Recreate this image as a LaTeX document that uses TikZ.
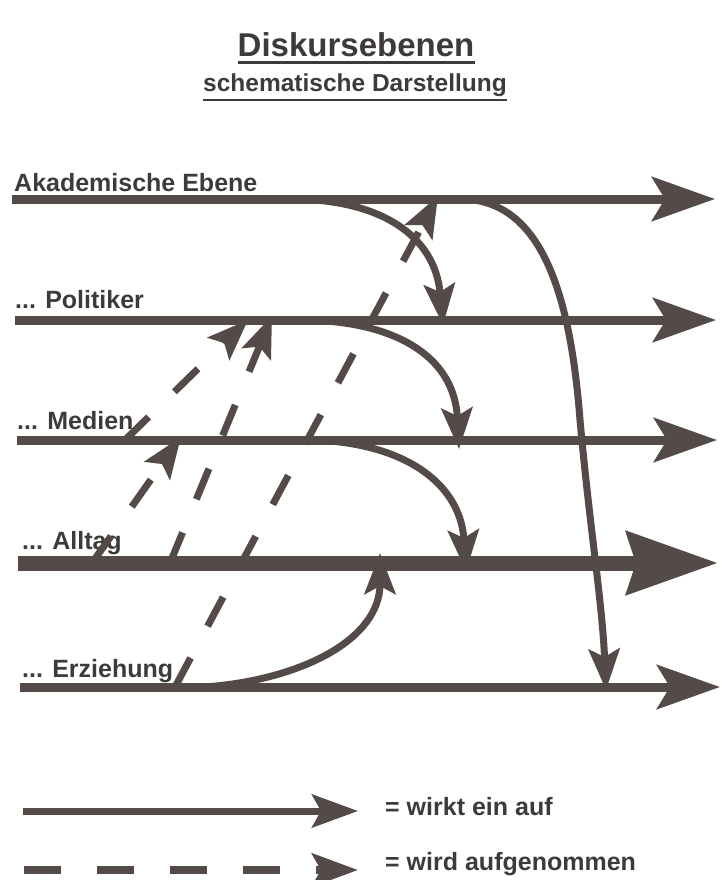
\documentclass[tikz,border=0pt]{standalone}
\usepackage{fontspec}
\setmainfont{Liberation Sans}
\usepackage{tikz}
\usetikzlibrary{arrows.meta}
\definecolor{inkgrey}{RGB}{84,74,72}
\definecolor{txtgrey}{RGB}{62,58,58}

\begin{document}
\begin{tikzpicture}[x=1pt, y=-1pt,
    lbl/.style={font=\fontsize{25}{30}\selectfont\bfseries, text=txtgrey, anchor=base west, inner sep=0pt},
    level/.style={color=inkgrey, line width=9pt, -{Stealth[length=63pt, width=44pt, inset=13pt]}},
    effect/.style={color=inkgrey, line width=7pt, -{Stealth[length=41pt, width=31pt, inset=8pt]}},
    taken/.style={effect, dash pattern=on 33pt off 36pt}]
    \fill[white] (0,0) rectangle (721,880);
    \useasboundingbox (0,0) rectangle (721,880);

    % Title
    \node[font=\fontsize{33}{40}\selectfont\bfseries, text=txtgrey, inner sep=0pt, anchor=base] (title) at (356,57) {Diskursebenen};
    \node[font=\fontsize{24.5}{30}\selectfont\bfseries, text=txtgrey, inner sep=0pt, anchor=base] (subtitle) at (355,92) {schematische Darstellung};
    \draw[txtgrey, line width=3pt] ([yshift=-6pt]title.base west) -- ([yshift=-6pt]title.base east);
    \draw[txtgrey, line width=2.5pt] ([yshift=-8pt]subtitle.base west) -- ([yshift=-8pt]subtitle.base east);

    % Levels
    \coordinate (akadL) at (12,199);  \coordinate (akadR) at (715,199);
    \coordinate (polL) at (15,320);   \coordinate (polR) at (716,320);
    \coordinate (medL) at (17,440);   \coordinate (medR) at (717,440);
    \coordinate (allL) at (18,563);   \coordinate (allR) at (718,563);
    \coordinate (erzL) at (20,687);   \coordinate (erzR) at (720,687);
    \draw[level] (akadL) -- (akadR);
    \draw[level] (polL) -- (polR);
    \draw[level] (medL) -- (medR);
    \draw[level, line width=15pt, -{Stealth[length=91pt, width=62pt, inset=9pt]}] (allL) -- (allR);
    \draw[level] (erzL) -- (erzR);

    % Level labels
    \node[lbl] (akadtxt) at (14,191) {Akademische Ebene};
    \node[lbl] (poltxt) at (15,308) {... Politiker};
    \node[lbl] (medtxt) at (17,429) {... Medien};
    \node[lbl] (alltxt) at (22,549) {... Alltag};
    \node[lbl] (erztxt) at (22,677) {... Erziehung};

    % wirkt ein auf
    \coordinate (akadOut1) at (290,199);  \coordinate (polIn1) at (443,325);
    \coordinate (polOut1) at (300,320);   \coordinate (medIn1) at (459,449);
    \coordinate (medOut1) at (305,440);   \coordinate (allIn1) at (466,571);
    \coordinate (erzOut1) at (205,687);   \coordinate (allIn2) at (380,553);
    \coordinate (akadOut2) at (460,199);  \coordinate (erzIn1) at (606,690);
    \draw[effect] (akadOut1) .. controls (380,199) and (435,235) .. (polIn1);
    \draw[effect] (polOut1) .. controls (388,320) and (454,352) .. (medIn1);
    \draw[effect] (medOut1) .. controls (395,440) and (460,478) .. (allIn1);
    \draw[effect] (erzOut1) .. controls (300,680) and (380,640) .. (allIn2);
    \draw[effect] (akadOut2) .. controls (540,199) and (570,290) .. (580,420)
        .. controls (590,530) and (602,600) .. (erzIn1);

    % wird aufgenommen
    \coordinate (erzOut2) at (175,687);  \coordinate (akadIn1) at (438,196);
    \coordinate (allOut1) at (170,563);  \coordinate (polIn2) at (272,316);
    \coordinate (medOut2) at (125,440);  \coordinate (polIn3) at (248,320);
    \coordinate (allOut2) at (92,563);   \coordinate (medIn2) at (181,437);
    \draw[taken] (erzOut2) -- (akadIn1);
    \draw[taken] (allOut1) -- (polIn2);
    \draw[taken] (medOut2) -- (polIn3);
    \draw[taken] (allOut2) -- (medIn2);

    % Legend
    \coordinate (keyA) at (23,811);  \coordinate (keyB) at (358,811);
    \coordinate (keyC) at (24,870);  \coordinate (keyD) at (358,870);
    \draw[effect, -{Stealth[length=46pt, width=33pt, inset=9pt]}] (keyA) -- (keyB);
    \draw[taken, line width=8pt, dash pattern=on 37pt off 36pt, -{Stealth[length=46pt, width=33pt, inset=9pt]}] (keyC) -- (keyD);
    \node[lbl] (keytxtA) at (385,815) {= wirkt ein auf};
    \node[lbl] (keytxtB) at (385,870) {= wird aufgenommen};
\end{tikzpicture}
\end{document}
